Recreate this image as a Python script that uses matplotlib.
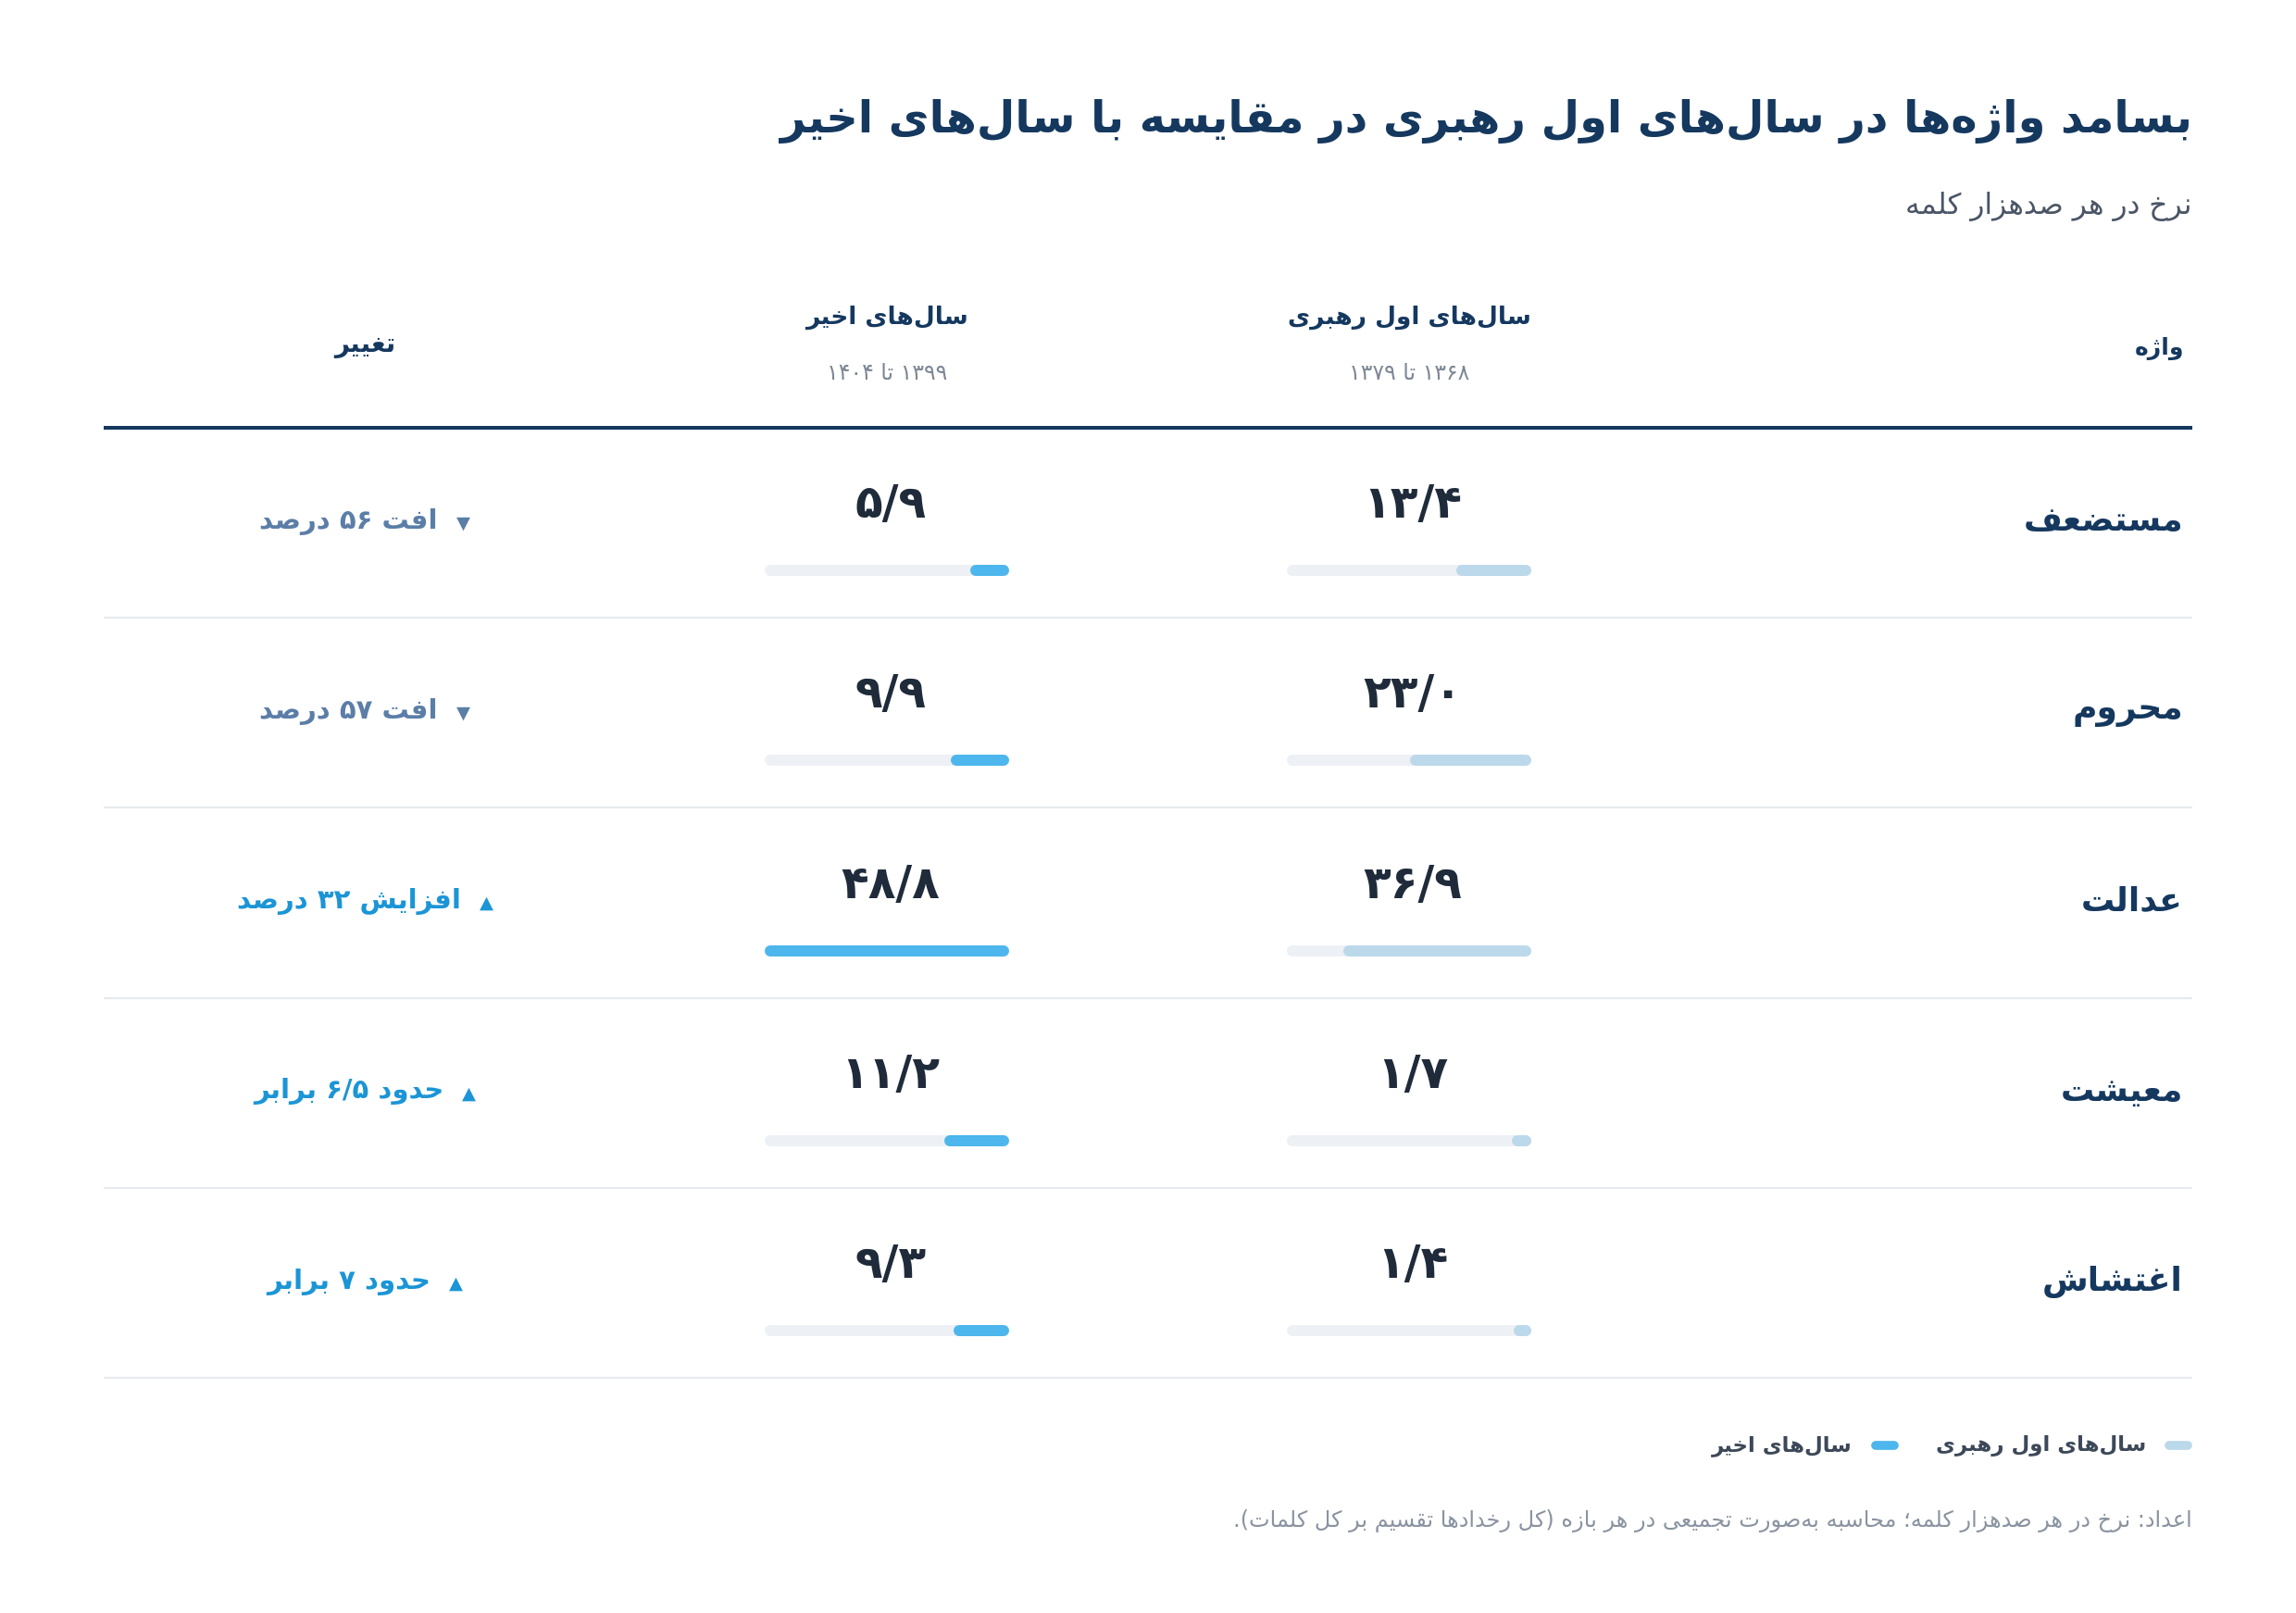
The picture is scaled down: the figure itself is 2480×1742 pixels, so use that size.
import matplotlib
matplotlib.use("Agg")
import matplotlib.pyplot as plt

plt.rcParams['font.family'] = ['DejaVu Sans']

# ---------------- data ----------------
title = 'بسامد واژه‌ها در سال‌های اول رهبری در مقایسه با سال‌های اخیر'
subtitle = 'نرخ در هر صدهزار کلمه'
col_word = 'واژه'
col_early = 'سال‌های اول رهبری'
col_early_years = '۱۳۶۸ تا ۱۳۷۹'
col_recent = 'سال‌های اخیر'
col_recent_years = '۱۳۹۹ تا ۱۴۰۴'
col_change = 'تغییر'
words = ['مستضعف', 'محروم', 'عدالت', 'معیشت', 'اغتشاش']
early = [13.4, 23.0, 36.9, 1.7, 1.4]
recent = [5.9, 9.9, 48.8, 11.2, 9.3]
change_labels = ['افت ۵۶ درصد', 'افت ۵۷ درصد', 'افزایش ۳۲ درصد', 'حدود ۶/۵ برابر', 'حدود ۷ برابر']
change_dir = ['down', 'down', 'up', 'up', 'up']
legend_labels = ['سال‌های اول رهبری', 'سال‌های اخیر']
footnote = 'اعداد: نرخ در هر صدهزار کلمه؛ محاسبه به‌صورت تجمیعی در هر بازه (کل رخدادها تقسیم بر کل کلمات).'

# ---------------- minimal Arabic/Persian shaping + bidi ----------------
F = {
    'ا': (0xFE8D, 0xFE8E), 'آ': (0xFE81, 0xFE82), 'د': (0xFEA9, 0xFEAA), 'ذ': (0xFEAB, 0xFEAC),
    'ر': (0xFEAD, 0xFEAE), 'ز': (0xFEAF, 0xFEB0), 'و': (0xFEED, 0xFEEE), 'ژ': (0xFB8A, 0xFB8B),
    'ة': (0xFE93, 0xFE94),
    'ب': (0xFE8F, 0xFE90, 0xFE91, 0xFE92), 'ت': (0xFE95, 0xFE96, 0xFE97, 0xFE98),
    'ث': (0xFE99, 0xFE9A, 0xFE9B, 0xFE9C), 'ج': (0xFE9D, 0xFE9E, 0xFE9F, 0xFEA0),
    'ح': (0xFEA1, 0xFEA2, 0xFEA3, 0xFEA4), 'خ': (0xFEA5, 0xFEA6, 0xFEA7, 0xFEA8),
    'س': (0xFEB1, 0xFEB2, 0xFEB3, 0xFEB4), 'ش': (0xFEB5, 0xFEB6, 0xFEB7, 0xFEB8),
    'ص': (0xFEB9, 0xFEBA, 0xFEBB, 0xFEBC), 'ض': (0xFEBD, 0xFEBE, 0xFEBF, 0xFEC0),
    'ط': (0xFEC1, 0xFEC2, 0xFEC3, 0xFEC4), 'ظ': (0xFEC5, 0xFEC6, 0xFEC7, 0xFEC8),
    'ع': (0xFEC9, 0xFECA, 0xFECB, 0xFECC), 'غ': (0xFECD, 0xFECE, 0xFECF, 0xFED0),
    'ف': (0xFED1, 0xFED2, 0xFED3, 0xFED4), 'ق': (0xFED5, 0xFED6, 0xFED7, 0xFED8),
    'ك': (0xFED9, 0xFEDA, 0xFEDB, 0xFEDC), 'ل': (0xFEDD, 0xFEDE, 0xFEDF, 0xFEE0),
    'م': (0xFEE1, 0xFEE2, 0xFEE3, 0xFEE4), 'ن': (0xFEE5, 0xFEE6, 0xFEE7, 0xFEE8),
    'ه': (0xFEE9, 0xFEEA, 0xFEEB, 0xFEEC), 'ي': (0xFEF1, 0xFEF2, 0xFEF3, 0xFEF4),
    'پ': (0xFB56, 0xFB57, 0xFB58, 0xFB59), 'چ': (0xFB7A, 0xFB7B, 0xFB7C, 0xFB7D),
    'ک': (0xFB8E, 0xFB8F, 0xFB90, 0xFB91), 'گ': (0xFB92, 0xFB93, 0xFB94, 0xFB95),
    'ی': (0xFBFC, 0xFBFD, 0xFBFE, 0xFBFF),
}
LAMALEF = {'ا': (0xFEFB, 0xFEFC), 'آ': (0xFEF5, 0xFEF6)}
MIRROR = {'(': ')', ')': '(', '[': ']', ']': '['}
PDIG = '۰۱۲۳۴۵۶۷۸۹'


def shape(s):
    ch = list(s)
    n = len(ch)
    out = []
    i = 0
    while i < n:
        c = ch[i]
        if c == '\u200c':
            i += 1
            continue
        if c not in F:
            out.append(c)
            i += 1
            continue
        prev = ch[i - 1] if i > 0 else None
        jp = prev in F and len(F[prev]) == 4
        if c == 'ل' and i + 1 < n and ch[i + 1] in LAMALEF:
            out.append(chr(LAMALEF[ch[i + 1]][1 if jp else 0]))
            i += 2
            continue
        nxt = ch[i + 1] if i + 1 < n else None
        jn = len(F[c]) == 4 and nxt in F
        forms = F[c]
        if jp and jn:
            out.append(chr(forms[3]))
        elif jp:
            out.append(chr(forms[1]))
        elif jn:
            out.append(chr(forms[2]))
        else:
            out.append(chr(forms[0]))
        i += 1
    return ''.join(out)


def isdig(c):
    return c in PDIG or c.isdigit()


def rtl(s):
    sh = shape(s)
    toks = []
    i = 0
    while i < len(sh):
        c = sh[i]
        if isdig(c):
            j = i
            while j < len(sh) and (isdig(sh[j]) or (sh[j] in '/.,' and j + 1 < len(sh) and isdig(sh[j + 1]))):
                j += 1
            toks.append(sh[i:j])
            i = j
        else:
            toks.append(MIRROR.get(c, c))
            i += 1
    return ''.join(reversed(toks))


def fa_num(v):
    s = f'{v:.1f}'.replace('.', '/')
    return ''.join(PDIG[int(c)] if c.isdigit() else c for c in s)


# ---------------- colours ----------------
NAVY = '#15385f'
DARK = '#1f2b3a'
GRAY = '#4a5566'
LGRAY = '#7d8794'
SEP = '#e7eaee'
TRACK = '#edf1f5'
C_EARLY = '#bcd8eb'
C_RECENT = '#4db6ec'
C_DOWN = '#5b7ea7'
C_UP = '#1b95d6'

W, H = 2480, 1742
fig = plt.figure(figsize=(W / 100, H / 100), dpi=100)
ax = fig.add_axes([0, 0, 1, 1])
ax.set_xlim(0, W)
ax.set_ylim(H, 0)
ax.axis('off')

RIGHT = 2368
LEFT = 112
X_EARLY = 1522
X_RECENT = 958
X_CHANGE = 394
ROW0 = 563
PITCH = 205.25

# title & subtitle
ax.text(RIGHT, 131, rtl(title), ha='right', va='center', fontsize=34.5, fontweight='bold', color=NAVY)
ax.text(RIGHT, 223, rtl(subtitle), ha='right', va='center', fontsize=22.5, color=GRAY)

# header
ax.text(RIGHT - 9, 376, rtl(col_word), ha='right', va='center', fontsize=18, fontweight='bold', color=NAVY)
ax.text(X_EARLY, 343, rtl(col_early), ha='center', va='center', fontsize=19, fontweight='bold', color=NAVY)
ax.text(X_EARLY, 403, rtl(col_early_years), ha='center', va='center', fontsize=17, color=LGRAY)
ax.text(X_RECENT, 343, rtl(col_recent), ha='center', va='center', fontsize=19, fontweight='bold', color=NAVY)
ax.text(X_RECENT, 403, rtl(col_recent_years), ha='center', va='center', fontsize=17, color=LGRAY)
ax.text(X_CHANGE, 373, rtl(col_change), ha='center', va='center', fontsize=20, fontweight='bold', color=NAVY)
ax.plot([LEFT, RIGHT], [462, 462], color=NAVY, lw=2.9, solid_capstyle='butt')

renderer = fig.canvas.get_renderer()

for i, w in enumerate(words):
    yc = ROW0 + i * PITCH
    ax.text(RIGHT - 10, yc, rtl(w), ha='right', va='center', fontsize=26, fontweight='bold', color=NAVY)
    ax.text(X_EARLY + 4, yc - 18, fa_num(early[i]), ha='center', va='center', fontsize=35, fontweight='bold', color=DARK)
    ax.text(X_RECENT + 4, yc - 18, fa_num(recent[i]), ha='center', va='center', fontsize=35, fontweight='bold', color=DARK)
    ax.plot([LEFT, RIGHT], [yc + 104, yc + 104], color=SEP, lw=1.6, solid_capstyle='butt')
    # change label with arrow, centred as a group
    col = C_DOWN if change_dir[i] == 'down' else C_UP
    arrow = '▼' if change_dir[i] == 'down' else '▲'
    t = ax.text(0, yc, rtl(change_labels[i]), ha='left', va='center', fontsize=21, fontweight='bold', color=col)
    a = ax.text(0, yc + 2, arrow, ha='left', va='center', fontsize=14, color=col)
    wl = t.get_window_extent(renderer).width
    wa = a.get_window_extent(renderer).width
    gap = 20
    x0 = X_CHANGE - (wl + gap + wa) / 2
    t.set_x(x0)
    a.set_x(x0 + wl + gap)

# bars: one axes per column, value scale shared (max value fills the track)
vmax = max(max(early), max(recent))
BAR_W = 264
BAR_LW_PX = 12
lw_pt = BAR_LW_PX * 72 / 100
pad = (BAR_LW_PX / 2) / (BAR_W - BAR_LW_PX) * vmax
y_top = ROW0 + 53 - PITCH / 2
y_bot = y_top + PITCH * len(words)
for xc, vals, colr in [(X_EARLY, early, C_EARLY), (X_RECENT, recent, C_RECENT)]:
    bx = fig.add_axes([(xc - BAR_W / 2) / W, 1 - y_bot / H, BAR_W / W, (y_bot - y_top) / H])
    bx.set_xlim(vmax + pad, -pad)
    bx.set_ylim(len(words) - 0.5, -0.5)
    bx.axis('off')
    for i, v in enumerate(vals):
        bx.plot([0, vmax], [i, i], color=TRACK, lw=lw_pt, solid_capstyle='round')
        bx.plot([0, v], [i, i], color=colr, lw=lw_pt, solid_capstyle='round')

# legend
LEG_Y = 1561
leg = [(2368, legend_labels[0], C_EARLY), (2051, legend_labels[1], C_RECENT)]
for xs, lab, colr in leg:
    ax.plot([xs - 25, xs - 5], [LEG_Y, LEG_Y], color=colr, lw=7, solid_capstyle='round')
    ax.text(xs - 50, LEG_Y, rtl(lab), ha='right', va='center', fontsize=16.5, fontweight='bold', color='#3d4858')

# footnote
ax.text(RIGHT, 1642, rtl(footnote), ha='right', va='center', fontsize=17.3, color='#8a93a0')

fig.savefig('out.png', dpi=100, facecolor='white')
